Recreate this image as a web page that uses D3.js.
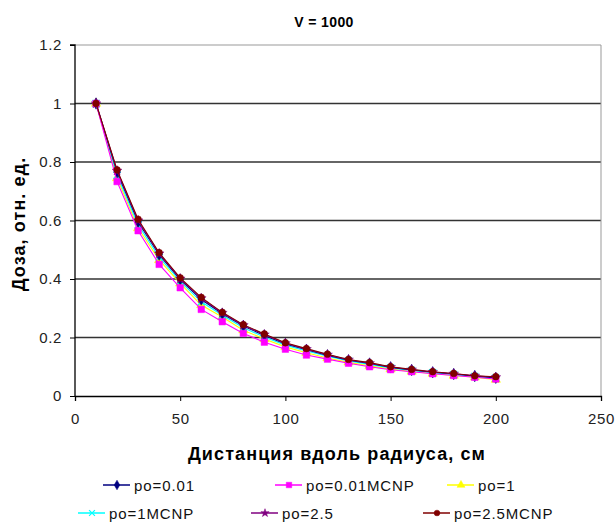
<!DOCTYPE html>
<html><head><meta charset="utf-8">
<script src="https://cdn.jsdelivr.net/npm/d3@7"></script>
<style>body{margin:0;background:#fff;} svg{display:block;font-family:"Liberation Sans",Arial,sans-serif;}</style>
</head><body>
<script>
const distances = [10,20,30,40,50,60,70,80,90,100,110,120,130,140,150,160,170,180,190,200];
const seriesNames = ["po=0.01","po=0.01MCNP","po=1","po=1MCNP","po=2.5","po=2.5MCNP"];
const po001     = [1,0.765,0.595,0.483,0.398,0.330,0.281,0.239,0.207,0.178,0.158,0.139,0.122,0.111,0.098,0.089,0.081,0.075,0.068,0.062];
const po001MCNP = [1,0.733,0.565,0.450,0.370,0.296,0.254,0.214,0.184,0.160,0.140,0.126,0.112,0.100,0.090,0.083,0.076,0.070,0.064,0.058];
const po1       = [1,0.745,0.574,0.465,0.385,0.311,0.270,0.225,0.195,0.168,0.148,0.130,0.115,0.103,0.092,0.084,0.077,0.070,0.064,0.056];
const po1MCNP   = [1,0.755,0.585,0.475,0.392,0.322,0.276,0.233,0.202,0.174,0.154,0.136,0.120,0.108,0.096,0.087,0.080,0.073,0.067,0.061];
const po25      = [1,0.770,0.600,0.487,0.401,0.334,0.284,0.242,0.210,0.180,0.160,0.141,0.124,0.112,0.099,0.090,0.082,0.076,0.069,0.064];
const po25MCNP  = [1,0.773,0.604,0.490,0.404,0.337,0.286,0.244,0.212,0.182,0.162,0.143,0.125,0.114,0.100,0.091,0.083,0.077,0.069,0.066];
const xTicks = [0,50,100,150,200,250];
const yTicks = [0,0.2,0.4,0.6,0.8,1,1.2];
const titleText = "V = 1000";
const xTitle = "Дистанция вдоль радиуса, см";
const yTitle = "Доза, отн. ед.";

const seriesValues = [po001,po001MCNP,po1,po1MCNP,po25,po25MCNP];
const colors = ["#000080","#FF00FF","#FFFF00","#00FFFF","#800080","#800000"];
const markers = ["diamond","square","triangle","cross","star","circle"];
const drawOrder = [2,3,0,4,1,5];

const W=615,H=523;
const svg=d3.select("body").append("svg").attr("width",W).attr("height",H);
const x=d3.scaleLinear().domain([0,250]).range([75,601]);
const y=d3.scaleLinear().domain([0,1.2]).range([396,45]);

// title
svg.append("text").attr("x",324).attr("y",27).attr("text-anchor","middle")
  .attr("font-size",14).attr("font-weight","bold").attr("letter-spacing",0.4).text(titleText);

// gridlines
svg.append("g").selectAll("line").data(yTicks.filter(d=>d>0)).join("line")
  .attr("x1",x(0)).attr("x2",x(250)).attr("y1",d=>y(d)).attr("y2",d=>y(d))
  .attr("stroke",d=>d===1.2?"#999":"#333").attr("stroke-width",d=>d===1.2?1:1.6);
// right border
svg.append("line").attr("x1",x(250)).attr("x2",x(250)).attr("y1",y(1.2)).attr("y2",y(0))
  .attr("stroke","#999").attr("stroke-width",1);

// axes
const yAxis=d3.axisLeft(y).tickValues(yTicks).tickSize(5).tickPadding(8).tickFormat(d=>String(d));
const ga=svg.append("g").attr("transform",`translate(${x(0)},0)`).call(yAxis);
const xAxis=d3.axisBottom(x).tickValues(xTicks).tickSize(5).tickPadding(12).tickFormat(d=>String(d));
const gb=svg.append("g").attr("transform",`translate(0,${y(0)})`).call(xAxis);
[ga,gb].forEach(g=>{
  g.select(".domain").attr("stroke","#000").attr("stroke-width",1.3);
  g.selectAll(".tick line").attr("stroke","#000");
  g.selectAll(".tick text").attr("font-size",15).attr("fill","#222").attr("letter-spacing",0.6)
    .attr("font-family","Liberation Sans, Arial, sans-serif");
});
ga.select(".domain").attr("d",`M-5,${y(1.2)}H0V${y(0)}`);

// axis titles
svg.append("text").attr("x",337).attr("y",460).attr("text-anchor","middle")
  .attr("font-size",18).attr("font-weight","bold").attr("letter-spacing",1.1).text(xTitle);
svg.append("text").attr("transform","translate(25,224) rotate(-90)").attr("text-anchor","middle")
  .attr("font-size",18).attr("font-weight","bold").attr("letter-spacing",1.1).text(yTitle);

function markerPath(type,s){
  switch(type){
    case "diamond": return d3.symbol(d3.symbolDiamond,s*s*0.9)();
    case "square": return d3.symbol(d3.symbolSquare,s*s)();
    case "triangle": return d3.symbol(d3.symbolTriangle,s*s*0.9)();
    case "cross": return d3.symbol(d3.symbolX,s*s*0.8)();
    case "star": return d3.symbol(d3.symbolStar,s*s*0.7)();
    case "circle": return d3.symbol(d3.symbolCircle,s*s*0.85)();
  }
}

const line=d3.line().x((d,i)=>x(distances[i])).y(d=>y(d));
drawOrder.forEach(si=>{
  const g=svg.append("g");
  g.append("path").datum(seriesValues[si]).attr("d",line).attr("fill","none")
    .attr("stroke",colors[si]).attr("stroke-width",1.1);
  const filled = markers[si]!=="cross";
  g.selectAll("path.m").data(seriesValues[si]).join("path").attr("class","m")
    .attr("transform",(d,i)=>`translate(${x(distances[i])},${y(d)})`)
    .attr("d",markerPath(markers[si],6.5))
    .attr("fill",filled?colors[si]:"none").attr("stroke",colors[si]).attr("stroke-width",filled?0.5:1.3);
});

// legend
const legendPos=[
  {lx:103,ty:485},{lx:275,ty:485},{lx:447,ty:485},
  {lx:78,ty:513},{lx:251,ty:513},{lx:423,ty:513}
];
seriesNames.forEach((n,i)=>{
  const p=legendPos[i];
  const g=svg.append("g");
  g.append("line").attr("x1",p.lx).attr("x2",p.lx+27).attr("y1",p.ty).attr("y2",p.ty)
    .attr("stroke",colors[i]).attr("stroke-width",1.5);
  const filled = markers[i]!=="cross";
  g.append("path").attr("transform",`translate(${p.lx+14},${p.ty})`).attr("d",markerPath(markers[i],5.5))
    .attr("fill",filled?colors[i]:"none").attr("stroke",colors[i]).attr("stroke-width",filled?0.5:1.2);
  g.append("text").attr("x",p.lx+31).attr("y",p.ty+5.5).attr("font-size",15).attr("letter-spacing",0.9)
    .attr("fill","#111").text(n);
});
</script>
</body></html>
